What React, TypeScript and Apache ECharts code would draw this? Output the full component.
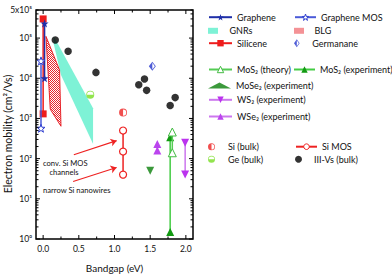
import React, { useEffect, useRef } from 'react';
import * as echarts from 'echarts';

const FONT = 'Lato, "DejaVu Sans", sans-serif';

// ---- data (bandgap eV, electron mobility cm^2/Vs) ----
const grapheneData = [[0.02, 230000], [0.02, 10000]];
const grapheneMosData = [[-0.03, 27000], [-0.03, 570]];
const siliceneData = [[0.0, 300000], [0.0, 1300]];
const gnrPolygon = [[0.15, 110000], [0.7, 1800], [0.7, 230], [0.25, 12000], [0.15, 70000]];
const blgPolygon = [[0.04, 110000], [0.23, 16000], [0.25, 640], [0.1, 1700]];
const germananeData = [[1.53, 20000]];
const mos2TheoryData = [[1.81, 460], [1.81, 140]];
const mos2ExpData = [[1.78, 340], [1.78, 1.5]];
const mose2Data = [[1.5, 50]];
const ws2Data = [[1.99, 250], [1.99, 40]];
const wse2Data = [[1.6, 230], [1.6, 160]];
const siBulkData = [[1.12, 1400]];
const siMosData = [[1.12, 500], [1.12, 150], [1.12, 40]];
const geBulkData = [[0.66, 3900]];
const iiiVData = [[0.17, 90000], [0.35, 47000], [0.74, 14000], [1.34, 6900], [1.42, 9600], [1.45, 5000], [1.78, 2100], [1.85, 3300]];
const arrowConv = [[0.43, 125], [1.03, 280]];
const arrowNarrow = [[0.42, 27], [1.03, 60]];

// ---- axis ticks ----
const xMajorTicks = [0, 0.5, 1, 1.5, 2];
const xMinorTicks = [0.25, 0.75, 1.25, 1.75];
const yDecades = [1, 10, 100, 1000, 10000, 100000];
const yMinorMultipliers = [2, 3, 4, 5, 6, 7, 8, 9];

const STAR = 'path://M0,-10L2.35,-3.24L9.51,-3.09L3.8,1.24L5.88,8.09L0,4L-5.88,8.09L-3.8,1.24L-9.51,-3.09L-2.35,-3.24Z';
const HALF_CIRCLE_LEFT = 'path://M0,-10A10,10,0,1,0,0,10A10,10,0,1,0,0,-10ZM0,-8A8,8,0,1,1,0,8A8,8,0,1,1,0,-8ZM0,-8A8,8,0,0,0,0,8Z';
const HALF_CIRCLE_BOTTOM = 'path://M-10,0A10,10,0,1,0,10,0A10,10,0,1,0,-10,0ZM-8,0A8,8,0,1,1,8,0A8,8,0,1,1,-8,0ZM-8,0A8,8,0,0,0,8,0Z';
const HALF_DIAMOND = 'path://M0,-10L7,0L0,10L-7,0ZM0,-7.5L-5,0L0,7.5L5,0ZM0,-7.5L0,7.5L-5,0Z';
const RECT_ICON = 'path://M0,0h10v6h-10z';

const SUP: Record<string, string> = { '0': '⁰', '1': '¹', '2': '²', '3': '³', '4': '⁴', '5': '⁵', '6': '⁶', '7': '⁷', '8': '⁸', '9': '⁹' };
const toSup = (n: number) => String(n).split('').map((c) => SUP[c] || c).join('');

// legend rows: [name, left, rowCenterY, itemWidth, itemHeight, iconBorderWidth, icon?]
const legendRows: [string, number, number, number, number, number, string?][] = [
  ['Graphene', 208, 16.7, 23, 8, 0],
  ['GNRs', 208, 29.3, 23, 6, 0, RECT_ICON],
  ['Silicene', 208, 42.7, 23, 8, 0],
  ['MoS₂ (theory)', 208, 69, 23, 8, 1],
  ['MoSe₂ (experiment)', 208, 84, 23, 6, 0],
  ['WS₂ (experiment)', 208, 99.3, 23, 8, 0],
  ['WSe₂ (experiment)', 208, 116, 23, 8, 0],
  ['Si (bulk)', 208, 145.7, 23, 7, 0],
  ['Ge (bulk)', 208, 158.3, 23, 7, 0],
  ['Graphene MOS', 294, 16.7, 21, 8, 1],
  ['BLG', 294, 29.3, 21, 6, 0, RECT_ICON],
  ['Germanane', 294, 42.7, 21, 8, 0],
  ['MoS₂ (experiment)', 293, 69, 21, 8, 0],
  ['Si MOS', 295, 145.7, 21, 7, 1],
  ['III-Vs (bulk)', 295, 158.3, 21, 7, 0],
];

export default function App() {
  const ref = useRef<HTMLDivElement>(null);
  useEffect(() => {
    const chart = echarts.init(ref.current!, null, { renderer: 'svg' });

    const cv = document.createElement('canvas');
    cv.width = 2;
    cv.height = 2;
    const ctx = cv.getContext('2d')!;
    ctx.fillStyle = '#ffffff';
    ctx.fillRect(0, 0, 2, 2);
    ctx.fillStyle = '#e8262c';
    ctx.fillRect(0, 0, 1, 1);
    ctx.fillRect(1, 1, 1, 1);
    const hatch: any = { image: cv, repeat: 'repeat' };

    const polygonSeries = (name: string, pts: number[][], fill: any, stroke: string | null, z: number) => ({
      type: 'custom',
      name,
      coordinateSystem: 'cartesian2d',
      data: [pts[0]],
      z,
      silent: true,
      itemStyle: { color: fill },
      renderItem: (params: any, api: any) => {
        if (params.dataIndex !== 0) return null;
        return {
          type: 'polygon',
          shape: { points: pts.map((p) => api.coord(p)) },
          style: { fill, stroke: stroke || 'none', lineWidth: stroke ? 1 : 0 },
        };
      },
    });

    const textStyle = { fontFamily: FONT, fontSize: 9, color: '#111' };
    const legends = legendRows.map(([name, left, cy, w, h, bw, icon]) => ({
      orient: 'vertical',
      padding: 0,
      selectedMode: false,
      left,
      top: cy - h / 2,
      itemWidth: w,
      itemHeight: h,
      itemStyle: { borderWidth: bw },
      textStyle,
      data: [icon ? { name, icon } : name],
    }));

    const option: any = {
      animation: false,
      grid: { left: 36, right: 199, top: 10, bottom: 36, show: true, borderColor: '#000', borderWidth: 1.5, backgroundColor: 'transparent' },
      xAxis: {
        type: 'value',
        min: -0.1,
        max: 2.1,
        interval: 0.05,
        axisLine: { show: false },
        axisTick: { show: false },
        splitLine: { show: false },
        axisLabel: {
          margin: 5,
          fontFamily: FONT,
          fontSize: 8.5,
          color: '#111',
          formatter: (v: number) => (Math.abs(Math.round(v * 100) % 50) === 0 ? v.toFixed(1) : ''),
        },
        name: 'Bandgap (eV)',
        nameLocation: 'middle',
        nameGap: 24,
        nameTextStyle: { fontFamily: FONT, fontSize: 10, color: '#111' },
      },
      yAxis: {
        type: 'log',
        logBase: 10,
        min: 1,
        max: 500000,
        axisLine: { show: false },
        axisTick: { show: false },
        splitLine: { show: false },
        axisLabel: {
          margin: 4,
          fontFamily: FONT,
          fontSize: 8.5,
          color: '#111',
          formatter: (v: number) => {
            const e = Math.log10(v);
            const r = Math.round(e);
            if (Math.abs(e - r) < 1e-6) return '10' + toSup(r);
            const f = Math.floor(e);
            return Math.round(v / Math.pow(10, f)) + 'x10' + toSup(f);
          },
        },
      },
      legend: legends,
      graphic: [
        { type: 'text', x: 7.5, y: 134, rotation: Math.PI / 2, style: { text: 'Electron mobility (cm²/Vs)', font: `10.5px ${FONT}`, fill: '#111', align: 'center', verticalAlign: 'middle' } },
        { type: 'text', x: 43, y: 162.8, style: { text: 'conv. Si MOS', font: `7.6px ${FONT}`, fill: '#111', align: 'left', verticalAlign: 'middle' } },
        { type: 'text', x: 64, y: 171.9, style: { text: 'channels', font: `7.6px ${FONT}`, fill: '#111', align: 'center', verticalAlign: 'middle' } },
        { type: 'text', x: 43, y: 190, style: { text: 'narrow Si nanowires', font: `7.6px ${FONT}`, fill: '#111', align: 'left', verticalAlign: 'middle' } },
      ],
      series: [
        polygonSeries('GNRs', gnrPolygon, '#7ef2d6', null, 1),
        polygonSeries('BLG', blgPolygon, hatch, '#e8262c', 2),
        {
          type: 'line', name: 'Graphene', data: grapheneData, z: 4,
          symbol: STAR, symbolSize: 8,
          lineStyle: { color: '#1f2fa8', width: 1.5 },
          itemStyle: { color: '#1f2fa8' },
        },
        {
          type: 'line', name: 'Graphene MOS', data: grapheneMosData, z: 4,
          symbol: STAR, symbolSize: 8,
          lineStyle: { color: '#4a5ad8', width: 1.5 },
          itemStyle: { color: '#ffffff', borderColor: '#3040d0', borderWidth: 1 },
        },
        {
          type: 'line', name: 'Silicene', data: siliceneData, z: 3,
          symbol: 'rect', symbolSize: 7,
          lineStyle: { color: '#ee1c1c', width: 1.5 },
          itemStyle: { color: '#ee1c1c' },
        },
        {
          type: 'scatter', name: 'Germanane', data: germananeData, z: 5,
          symbol: HALF_DIAMOND, symbolSize: [7, 9],
          itemStyle: { color: '#2233cc' },
        },
        {
          type: 'line', name: 'MoS₂ (theory)', data: mos2TheoryData, z: 5,
          symbol: 'triangle', symbolSize: 8,
          lineStyle: { color: '#55cc55', width: 1.5 },
          itemStyle: { color: '#ffffff', borderColor: '#44bb44', borderWidth: 1 },
        },
        {
          type: 'line', name: 'MoS₂ (experiment)', data: mos2ExpData, z: 4,
          symbol: 'triangle', symbolSize: 8,
          lineStyle: { color: '#44cc44', width: 1.5 },
          itemStyle: { color: '#129a12' },
        },
        {
          type: 'scatter', name: 'MoSe₂ (experiment)', data: mose2Data, z: 5,
          symbol: 'triangle', symbolRotate: 180, symbolSize: 8,
          itemStyle: { color: '#0a7f0a' },
        },
        {
          type: 'line', name: 'WS₂ (experiment)', data: ws2Data, z: 5,
          symbol: 'triangle', symbolRotate: 180, symbolSize: 8,
          lineStyle: { color: '#cc77ee', width: 1.5 },
          itemStyle: { color: '#bb33ee' },
        },
        {
          type: 'line', name: 'WSe₂ (experiment)', data: wse2Data, z: 5,
          symbol: 'triangle', symbolSize: 8,
          lineStyle: { color: '#cc77ee', width: 1.5 },
          itemStyle: { color: '#bb44ee' },
        },
        {
          type: 'scatter', name: 'Si (bulk)', data: siBulkData, z: 5,
          symbol: HALF_CIRCLE_LEFT, symbolSize: 8,
          itemStyle: { color: '#ee2222' },
        },
        {
          type: 'line', name: 'Si MOS', data: siMosData, z: 4,
          symbol: 'circle', symbolSize: 7,
          lineStyle: { color: '#ee2222', width: 1.5 },
          itemStyle: { color: '#ffffff', borderColor: '#ee2222', borderWidth: 1.2 },
          markLine: {
            silent: true,
            symbol: ['none', 'arrow'],
            symbolSize: 6,
            label: { show: false },
            lineStyle: { color: '#ee2222', width: 1.2, type: 'solid' },
            data: [
              [{ coord: arrowConv[0] }, { coord: arrowConv[1] }],
              [{ coord: arrowNarrow[0] }, { coord: arrowNarrow[1] }],
            ],
          },
        },
        {
          type: 'scatter', name: 'Ge (bulk)', data: geBulkData, z: 5,
          symbol: HALF_CIRCLE_BOTTOM, symbolSize: 8,
          itemStyle: { color: '#77dd22' },
        },
        {
          type: 'scatter', name: 'III-Vs (bulk)', data: iiiVData, z: 5,
          symbol: 'circle', symbolSize: 7.5,
          itemStyle: { color: '#000000' },
        },
        {
          type: 'custom', name: 'ticks', coordinateSystem: 'cartesian2d', data: [[0, 1]], z: 10, silent: true,
          renderItem: (params: any, api: any) => {
            if (params.dataIndex !== 0) return null;
            const cs = params.coordSys;
            const top = cs.y, bottom = cs.y + cs.height, left = cs.x, right = cs.x + cs.width;
            const st = { stroke: '#000', lineWidth: 1 };
            const ch: any[] = [];
            const ln = (x1: number, y1: number, x2: number, y2: number) => ch.push({ type: 'line', shape: { x1, y1, x2, y2 }, style: st });
            xMajorTicks.forEach((v) => { const x = api.coord([v, 1])[0]; ln(x, bottom, x, bottom - 4); ln(x, top, x, top + 4); });
            xMinorTicks.forEach((v) => { const x = api.coord([v, 1])[0]; ln(x, bottom, x, bottom - 2.5); ln(x, top, x, top + 2.5); });
            yDecades.forEach((d) => {
              const y = api.coord([0, d])[1];
              ln(left, y, left + 4, y); ln(right, y, right - 4, y);
              yMinorMultipliers.forEach((m) => {
                const val = d * m;
                if (val > 500000) return;
                const ym = api.coord([0, val])[1];
                ln(left, ym, left + 2.5, ym); ln(right, ym, right - 2.5, ym);
              });
            });
            return { type: 'group', children: ch };
          },
        },
      ],
    };
    chart.setOption(option);
    return () => chart.dispose();
  }, []);
  return <div ref={ref} style={{ position: 'absolute', left: 0, top: 0, width: 392, height: 278 }} />;
}
